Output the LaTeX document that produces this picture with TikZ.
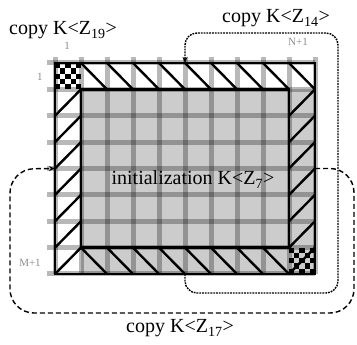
\documentclass[tikz,border=0pt]{standalone}
\usepackage{fontspec}
\setmainfont{Liberation Serif}
\usetikzlibrary{arrows.meta,calc,positioning}
\definecolor{gmFill}{HTML}{CCCCCC}
\definecolor{gmIndex}{HTML}{8C8C8C}
\tikzset{
  gridline/.style={line width=5pt, black, opacity=0.28},
  cellline/.style={line width=2.6pt, black},
  hatch/.style={line width=2.4pt, black},
  lbl/.style={font=\fontsize{20}{23}\selectfont, inner sep=0pt},
  idx/.style={font=\fontsize{11}{13}\selectfont, text=gmIndex, inner sep=0pt},
  dotcopy/.style={-{Stealth[length=6pt, width=5pt]}, line width=1.4pt,
    dash pattern=on 1.8pt off 1pt, rounded corners=12pt},
  dashcopy/.style={-{Stealth[length=6pt, width=5pt]}, line width=1.4pt,
    dash pattern=on 5pt off 3pt, rounded corners=24pt}
}

\begin{document}
\begin{tikzpicture}[x=1pt, y=-1pt]
  \useasboundingbox (0,0) rectangle (357,345);
  \foreach \i in {0,...,10}{
    \foreach \j in {0,...,8}{
      \coordinate (g-\i-\j) at ({55+26*\i},{63+26.375*\j});
    }
  }
  \fill[gmFill] (g-1-1) rectangle (g-10-8);
  \foreach \a in {0,...,4}{
    \foreach \b in {0,...,4}{
      \pgfmathtruncatemacro\chk{mod(\a+\b,2)}
      \ifnum\chk=0
        \fill[black] ($(g-0-0)+(5.2*\a,5.275*\b)$) rectangle ++(5.2,5.275);
        \fill[black] ($(g-9-7)+(5.2*\a,5.275*\b)$) rectangle ++(5.2,5.275);
      \fi
    }
  }
  \foreach \i in {0,...,10}{\draw[gridline] ($(g-\i-0)+(0,-6)$) -- (g-\i-8);}
  \foreach \j in {0,...,8}{\draw[gridline] ($(g-0-\j)+(-8,0)$) -- (g-10-\j);}
  \foreach \i [evaluate=\i as \k using int(\i+1)] in {1,...,9}{\draw[hatch] (g-\i-0) -- (g-\k-1);}
  \foreach \i [evaluate=\i as \k using int(\i+1)] in {1,...,8}{\draw[hatch] (g-\i-7) -- (g-\k-8);}
  \foreach \j [evaluate=\j as \k using int(\j+1)] in {1,...,7}{\draw[hatch] (g-0-\k) -- (g-1-\j);}
  \foreach \j [evaluate=\j as \k using int(\j+1)] in {1,...,7}{\draw[hatch] (g-9-\k) -- (g-10-\j);}
  \draw[cellline] (g-0-0) rectangle (g-10-8);
  \draw[cellline] (g-1-1) rectangle (g-9-7);
  \node[idx] (col1) at (67,46) {1};
  \node[idx] (row1) at (40,77) {1};
  \node[idx] (colN) at (298,42) {N+1};
  \node[idx] (rowM) at (30,263) {M+1};
  \node[lbl, anchor=base] (cp19) at (63,35) {copy K<Z\textsubscript{19}>};
  \node[lbl, anchor=base] (cp14) at (276,23) {copy K<Z\textsubscript{14}>};
  \node[lbl, anchor=base] (init) at (193,185) {initialization K<Z\textsubscript{7}>};
  \node[lbl, anchor=base] (cp17) at (180,333) {copy K<Z\textsubscript{17}>};
  \draw[dotcopy] (g-5-8) -- ++(0,19) -| (338,33) -| (g-5-0);
  \draw[dashcopy] (g-10-4) -| (354,313) -| (10,169) -- (g-0-4);
\end{tikzpicture}
\end{document}
